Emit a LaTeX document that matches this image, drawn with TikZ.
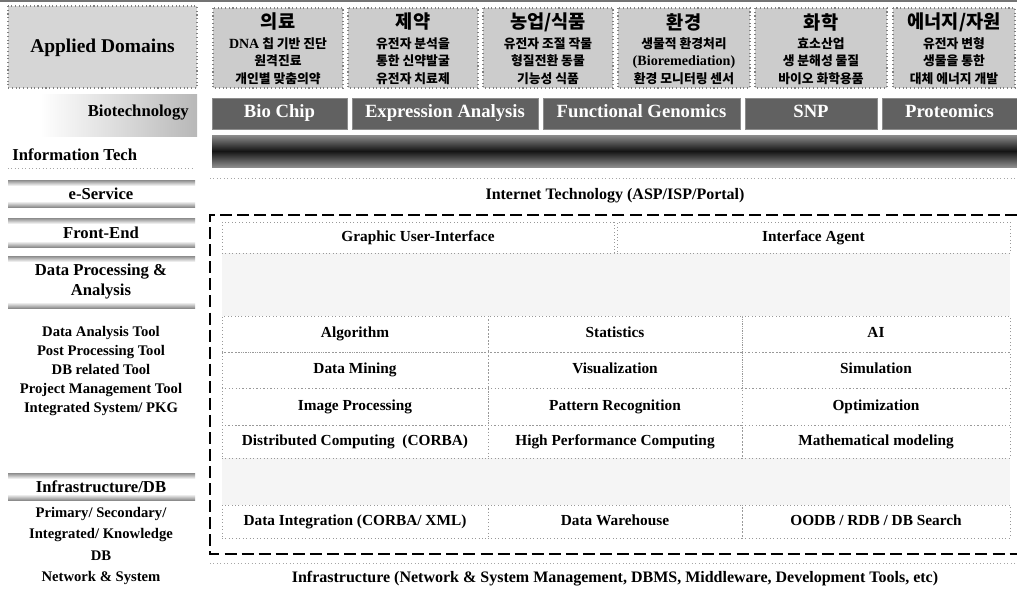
\documentclass[tikz,border=0pt]{standalone}
\usepackage{fontspec}
\setmainfont{Liberation Serif}
\newfontfamily\kr{Noto Sans CJK KR}
\newcommand\fsz[2]{\fontsize{#1}{#2}\selectfont}
\begin{document}
\begin{tikzpicture}[x=0.75pt,y=-0.75pt,
  krbox/.style={draw=black!50, dotted, line width=0.8pt, fill=black!20},
  krtitle/.style={font=\kr\bfseries\fsz{14}{16}, inner sep=0pt},
  krbody/.style={font=\kr\bfseries\fsz{9.6}{13.1}, align=center, inner sep=0pt},
  biobox/.style={draw=black!45, fill=black!62, text=white, font=\bfseries\fsz{14}{16}, inner sep=0pt, text height=9.5pt, text depth=3pt},
  sidelbl/.style={font=\bfseries\fsz{12.5}{15}, inner sep=0pt, align=center},
  sidelist/.style={font=\bfseries\fsz{11}{14.25}, inner sep=0pt, align=center},
  cell/.style={draw=black!40, dotted, line width=0.6pt, inner sep=0pt, font=\bfseries\fsz{11.5}{13}, text height=8pt, text depth=2.6pt},
  band/.style={top color=black!45, bottom color=white},
  bandlow/.style={top color=white, bottom color=black!45},
  wideline/.style={font=\bfseries\fsz{12}{14}, inner sep=0pt},
  frame/.style={line width=2.2pt, dash pattern=on 9pt off 3.8pt},
  thinsep/.style={draw=black!35, dotted, line width=0.6pt}
]
\useasboundingbox (0,0) rectangle (1017,590);
\fill[white] (0,0) rectangle (1017,590);
\draw[black!55, line width=1.1pt] (0,1) -- (1017,1);

% ---------- left column ----------
\draw[krbox, fill=black!16] (8,6) rectangle (197,88);
\node[font=\bfseries\fsz{14.6}{17}, inner sep=0pt] (applied) at (102.5,48) {Applied Domains};

\shade[left color=white, right color=black!28] (40,94) rectangle (197,136);
\node[sidelbl, anchor=east] (biotech) at (189,113) {Biotechnology};
\node[sidelbl, anchor=west] (infotech) at (12,155) {Information Tech};
\draw[thinsep] (8,168) -- (195,168);

\foreach \ya/\yb in {180/207, 218/247, 256/308, 473/500}{
  \shade[band] (8,\ya) rectangle (195,\ya+6);
  \shade[bandlow] (8,\yb-6) rectangle (195,\yb);
}
\node[sidelbl] (eserv) at (101,194) {e-Service};
\node[sidelbl] (front) at (101,233) {Front-End};
\node[sidelbl, font=\bfseries\fsz{12.5}{15}] (dpa) at (101,282) {Data Processing \&\\Analysis};
\node[sidelist] (tools) at (101,371) {Data Analysis Tool\\Post Processing Tool\\DB related Tool\\Project Management Tool\\Integrated System/ PKG};
\node[sidelbl] (infradb) at (101,487) {Infrastructure/DB};
\node[sidelist, font=\bfseries\fsz{11}{15.8}] (dblist) at (101,546) {Primary/ Secondary/\\Integrated/ Knowledge\\DB\\Network \& System};

% ---------- application domains ----------
\foreach \xa/\xb in {213/343, 348/478, 483/613, 618/750, 755/887, 893/1015}{
  \draw[krbox] (\xa,8) rectangle (\xb,88);
}
\node[krtitle] (t1) at (278,22) {의료};
\node[krtitle] (t2) at (413,22) {제약};
\node[krtitle] (t3) at (548,22) {농업/식품};
\node[krtitle] (t4) at (684,22) {환경};
\node[krtitle] (t5) at (821,22) {화학};
\node[krtitle] (t6) at (954,22) {에너지/자원};
\node[krbody] (b1) at (278,61) {{\rmfamily\bfseries\fsz{10.5}{13.1}DNA} 칩 기반 진단\\원격진료\\개인별 맞춤의약};
\node[krbody] (b2) at (413,61) {유전자 분석을\\통한 신약발굴\\유전자 치료제};
\node[krbody] (b3) at (548,61) {유전자 조절 작물\\형질전환 동물\\기능성 식품};
\node[krbody] (b4) at (684,61) {생물적 환경처리\\{\rmfamily\bfseries\fsz{10.6}{13.1}(Bioremediation)}\\환경 모니터링 센서};
\node[krbody] (b5) at (821,61) {효소산업\\생 분해성 물질\\바이오 화학용품};
\node[krbody] (b6) at (954,61) {유전자 변형\\생물을 통한\\대체 에너지 개발};

% ---------- biotechnology ----------
\node[biobox, minimum width=101.25pt, minimum height=23.25pt] (chip) at (279.5,113.5) {Bio Chip};
\node[biobox, minimum width=139.5pt, minimum height=23.25pt] (expr) at (445,113.5) {Expression Analysis};
\node[biobox, minimum width=147.75pt, minimum height=23.25pt] (func) at (641.5,113.5) {Functional Genomics};
\node[biobox, minimum width=99pt, minimum height=23.25pt] (snp) at (811,113.5) {SNP};
\node[biobox, minimum width=101.25pt, minimum height=23.25pt] (prot) at (949.5,113.5) {Proteomics};
\shade[top color=black!45, bottom color=black!45, middle color=black!92] (212,135) rectangle (1017,167);

% ---------- information technology ----------
\draw[thinsep] (210,178) -- (1017,178);
\node[wideline] (inet) at (615,196) {Internet Technology (ASP/ISP/Portal)};

\fill[black!4] (222,253) rectangle (1010,316);
\fill[black!4] (222,458) rectangle (1010,505);

\node[cell, minimum width=294pt, minimum height=23.25pt] (gui) at (418,237.5) {Graphic User-Interface};
\node[cell, minimum width=294.75pt, minimum height=23.25pt] (agent) at (813.5,237.5) {Interface Agent};

\node[cell, minimum width=199.5pt, minimum height=27pt] (alg) at (355,334) {Algorithm};
\node[cell, minimum width=190.5pt, minimum height=27pt] (stat) at (615,334) {Statistics};
\node[cell, minimum width=201pt, minimum height=27pt] (ai) at (876,334) {AI};

\node[cell, minimum width=199.5pt, minimum height=27pt] (mine) at (355,370) {Data Mining};
\node[cell, minimum width=190.5pt, minimum height=27pt] (vis) at (615,370) {Visualization};
\node[cell, minimum width=201pt, minimum height=27pt] (sim) at (876,370) {Simulation};

\node[cell, minimum width=199.5pt, minimum height=27.75pt] (img) at (355,406.5) {Image Processing};
\node[cell, minimum width=190.5pt, minimum height=27.75pt] (pat) at (615,406.5) {Pattern Recognition};
\node[cell, minimum width=201pt, minimum height=27.75pt] (opt) at (876,406.5) {Optimization};

\node[cell, minimum width=199.5pt, minimum height=24.75pt] (dist) at (355,441.5) {Distributed Computing\ \ (CORBA)};
\node[cell, minimum width=190.5pt, minimum height=24.75pt] (hpc) at (615,441.5) {High Performance Computing};
\node[cell, minimum width=201pt, minimum height=24.75pt] (math) at (876,441.5) {Mathematical modeling};

\node[cell, minimum width=199.5pt, minimum height=24.75pt] (integ) at (355,521.5) {Data Integration (CORBA/ XML)};
\node[cell, minimum width=190.5pt, minimum height=24.75pt] (ware) at (615,521.5) {Data Warehouse};
\node[cell, minimum width=201pt, minimum height=24.75pt] (oodb) at (876,521.5) {OODB / RDB / DB Search};

% dashed frame round the processing layers
\draw[frame] (1017,215) -- (210,215) -- (210,554) -- (1017,554);

\draw[thinsep] (210,563) -- (1017,563);
\node[wideline] (infra) at (615,579) {Infrastructure (Network \& System Management, DBMS, Middleware, Development Tools, etc)};
\end{tikzpicture}
\end{document}
